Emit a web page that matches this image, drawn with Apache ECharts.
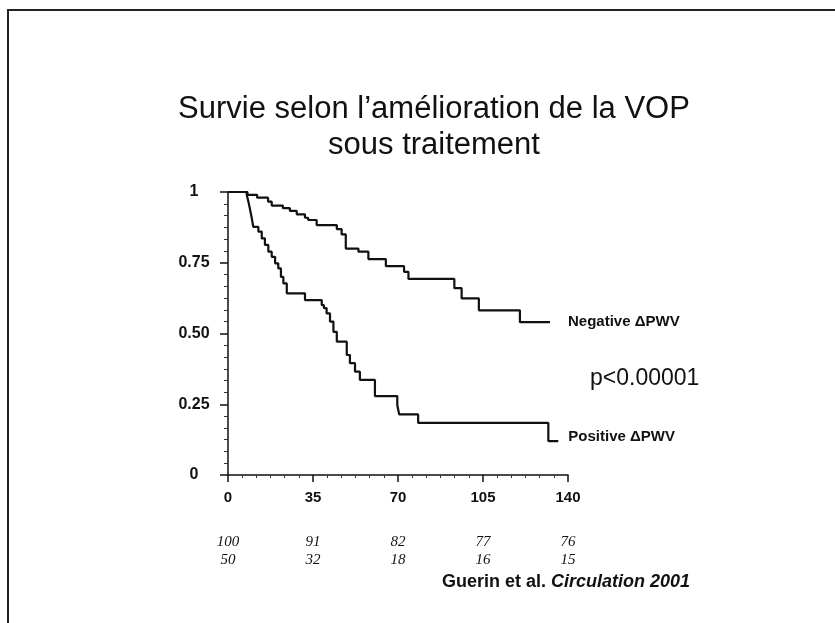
<!DOCTYPE html>
<html>
<head>
<meta charset="utf-8">
<script src="https://cdn.jsdelivr.net/npm/echarts@6/dist/echarts.min.js"></script>
<style>
  html, body { margin: 0; padding: 0; background: #fff; }
  #chart { width: 835px; height: 623px; }
</style>
</head>
<body>
<div id="chart"></div>
<script>
// survie (Kaplan-Meier), [mois, proportion] a chaque marche
const negativeSteps = [
  [0, 1], [8, 0.99], [12, 0.98], [16.5, 0.966], [18, 0.952], [22.6, 0.943],
  [25.5, 0.933], [28.3, 0.921], [31.7, 0.909], [33, 0.901], [36.5, 0.883],
  [44.8, 0.869], [46.8, 0.85], [48.5, 0.8], [53.7, 0.789], [57.8, 0.763],
  [65, 0.738], [72.5, 0.718], [74.3, 0.693], [93.2, 0.66], [96.2, 0.624],
  [103.3, 0.582], [120.2, 0.54], [132.6, 0.54]
]
const positiveSteps = [
  [0, 1], [7.7, 0.99], [8.4, 0.966], [9, 0.942], [9.8, 0.907], [10.4, 0.877],
  [12.5, 0.86], [13.9, 0.836], [15.2, 0.813], [16.6, 0.789], [18, 0.771],
  [19.4, 0.748], [20.7, 0.73], [21.8, 0.7], [22.8, 0.677], [24.2, 0.642],
  [31.7, 0.618], [38.6, 0.6], [39.5, 0.59], [40.6, 0.571], [42, 0.542],
  [43.4, 0.506], [44.8, 0.471], [48.9, 0.424], [50.2, 0.395], [52.3, 0.365],
  [54.3, 0.336], [60.5, 0.279], [69.7, 0.247], [70.5, 0.214], [78.3, 0.184],
  [131.9, 0.12], [136, 0.12]
]
// sujets a risque sous l'axe
const timeTicks = [0, 35, 70, 105, 140]
const atRiskNegative = [100, 91, 82, 77, 76]
const atRiskPositive = [50, 32, 18, 16, 15]

const chart = echarts.init(document.getElementById('chart'), null, { renderer: 'canvas' })

const sans = 'Liberation Sans, Arial, sans-serif'
const serif = 'Liberation Serif, Times New Roman, serif'

function riskAxis(values, offset) {
  return {
    type: 'value',
    gridIndex: 0,
    position: 'bottom',
    min: 0,
    max: 140,
    interval: 35,
    offset: offset,
    axisLine: { show: false },
    axisTick: { show: false },
    splitLine: { show: false },
    axisLabel: {
      margin: 5,
      fontFamily: serif,
      fontStyle: 'italic',
      fontSize: 15,
      color: '#111',
      formatter: (v) => {
        const i = timeTicks.indexOf(v)
        return i < 0 ? '' : String(values[i])
      }
    }
  }
}

const option = {
  animation: false,
  backgroundColor: '#fff',
  title: {
    text: 'Survie selon l’amélioration de la VOP\nsous traitement',
    left: 429,
    top: 86,
    textAlign: 'center',
    textStyle: {
      fontFamily: sans,
      fontWeight: 'normal',
      fontSize: 31,
      lineHeight: 36,
      color: '#111'
    }
  },
  grid: { left: 228, right: 267, top: 192, bottom: 148 },
  xAxis: [
    {
      type: 'value',
      min: 0,
      max: 140,
      interval: 35,
      axisLine: { lineStyle: { color: '#111', width: 1.5 } },
      axisTick: { length: 7, lineStyle: { color: '#111', width: 1.5 } },
      minorTick: { show: true, splitNumber: 6, length: 3, lineStyle: { color: '#333' } },
      splitLine: { show: false },
      axisLabel: {
        margin: 15,
        fontFamily: sans,
        fontWeight: 'bold',
        fontSize: 15,
        color: '#111'
      }
    },
    riskAxis(atRiskNegative, 55),
    riskAxis(atRiskPositive, 73)
  ],
  yAxis: {
    type: 'value',
    min: 0,
    max: 1,
    interval: 0.25,
    axisLine: { show: true, lineStyle: { color: '#111', width: 1.5 } },
    axisTick: { show: true, length: 8, lineStyle: { color: '#111', width: 1.5 } },
    minorTick: { show: true, splitNumber: 6, length: 4, lineStyle: { color: '#333' } },
    splitLine: { show: false },
    axisLabel: {
      margin: 34,
      align: 'center',
      fontFamily: sans,
      fontWeight: 'bold',
      fontSize: 16,
      color: '#111',
      formatter: (v) => (v === 0 || v === 1 ? String(v) : v.toFixed(2))
    }
  },
  series: [
    {
      name: 'Negative ΔPWV',
      type: 'line',
      step: 'end',
      symbol: 'none',
      data: negativeSteps,
      lineStyle: { color: '#111', width: 2.2 },
      endLabel: {
        show: true,
        formatter: 'Negative ΔPWV',
        distance: 18,
        fontFamily: sans,
        fontWeight: 'bold',
        fontSize: 15,
        color: '#111'
      }
    },
    {
      name: 'Positive ΔPWV',
      type: 'line',
      step: 'end',
      symbol: 'none',
      data: positiveSteps,
      lineStyle: { color: '#111', width: 2.2 },
      endLabel: {
        show: true,
        formatter: 'Positive ΔPWV',
        distance: 10,
        offset: [0, -4],
        fontFamily: sans,
        fontWeight: 'bold',
        fontSize: 15,
        color: '#111'
      }
    }
  ],
  graphic: [
    {
      type: 'rect',
      shape: { x: 8, y: 10, width: 840, height: 640 },
      style: { fill: 'none', stroke: '#222', lineWidth: 2 }
    },
    {
      type: 'text',
      left: 590,
      top: 367,
      style: { text: 'p<0.00001', fontFamily: sans, fontSize: 23, fill: '#111' }
    },
    {
      type: 'text',
      right: 145,
      top: 573,
      style: {
        text: '{a|Guerin et al. }{b|Circulation 2001}',
        rich: {
          a: { fontFamily: sans, fontWeight: 'bold', fontSize: 18, fill: '#111' },
          b: { fontFamily: sans, fontWeight: 'bold', fontStyle: 'italic', fontSize: 18, fill: '#111' }
        }
      }
    }
  ]
}

chart.setOption(option)
</script>
</body>
</html>
